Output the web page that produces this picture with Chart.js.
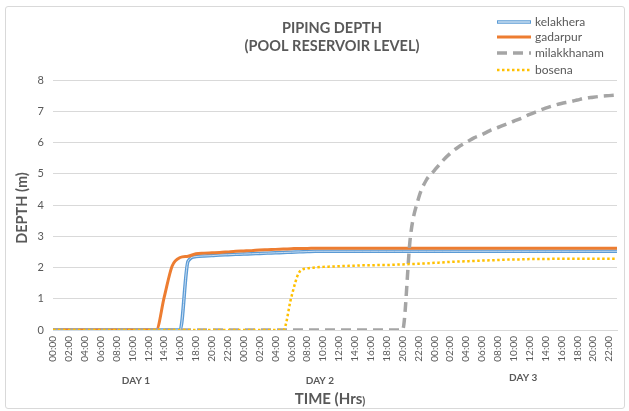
<!DOCTYPE html>
<html>
<head>
<meta charset="utf-8">
<script src="https://cdn.jsdelivr.net/npm/chart.js@4/dist/chart.umd.min.js"></script>
<style>
body { margin: 0; background: #fff; }
#wrap { position: relative; width: 629px; height: 411px; }
#frame { position: absolute; left: 5px; top: 6px; width: 618px; height: 401px; border: 1px solid #d9d9d9; border-radius: 3px; }
canvas { position: absolute; left: 0; top: 0; }
</style>
</head>
<body>
<div id="wrap">
  <div id="frame"></div>
  <canvas id="graph" width="629" height="411"></canvas>
</div>
<script>
//hour labels for one day, repeated for the three days
const hours = ['00:00','01:00','02:00','03:00','04:00','05:00','06:00','07:00','08:00','09:00','10:00','11:00',
               '12:00','13:00','14:00','15:00','16:00','17:00','18:00','19:00','20:00','21:00','22:00','23:00'];
const labels = [...hours, ...hours, ...hours];

const dayNames = ['DAY 1', 'DAY 2', 'DAY 3'];
const yTicks = [0, 1, 2, 3, 4, 5, 6, 7, 8];

//depth values (m), one per hour
const kelakhera = [
  0,0,0,0,0,0,0,0,0,0,0,0,0,0,0,0,0,2.2,2.35,2.37,2.38,2.4,2.41,2.42,
  2.43,2.44,2.45,2.46,2.47,2.48,2.49,2.5,2.51,2.52,2.52,2.52,2.52,2.52,2.52,2.52,2.52,2.52,2.52,2.52,2.52,2.52,2.52,2.52,
  2.52,2.52,2.52,2.52,2.52,2.52,2.52,2.52,2.52,2.52,2.52,2.52,2.52,2.52,2.52,2.52,2.52,2.52,2.52,2.52,2.52,2.52,2.52,2.52
];
const gadarpur = [
  0,0,0,0,0,0,0,0,0,0,0,0,0,0,1.05,2.05,2.32,2.36,2.44,2.46,2.47,2.48,2.5,2.52,
  2.53,2.54,2.56,2.57,2.58,2.59,2.6,2.61,2.61,2.62,2.62,2.62,2.62,2.62,2.62,2.62,2.62,2.62,2.62,2.62,2.62,2.62,2.62,2.62,
  2.62,2.62,2.62,2.62,2.62,2.62,2.62,2.62,2.62,2.62,2.62,2.62,2.62,2.62,2.62,2.62,2.62,2.62,2.62,2.62,2.62,2.62,2.62,2.62
];
const milakkhanam = [
  0,0,0,0,0,0,0,0,0,0,0,0,0,0,0,0,0,0,0,0,0,0,0,0,
  0,0,0,0,0,0,0,0,0,0,0,0,0,0,0,0,0,0,0,0,0,3.0,4.2,4.8,
  5.1,5.4,5.65,5.85,6.0,6.15,6.25,6.38,6.48,6.58,6.68,6.78,6.9,7.0,7.1,7.18,7.25,7.3,7.36,7.42,7.45,7.48,7.5,7.52
];
const bosena = [
  0,0,0,0,0,0,0,0,0,0,0,0,0,0,0,0,0,0,0,0,0,0,0,0,
  0,0,0,0,0,0,1.05,1.85,1.97,2.0,2.02,2.03,2.04,2.05,2.06,2.07,2.07,2.08,2.08,2.09,2.1,2.11,2.12,2.13,
  2.15,2.16,2.18,2.19,2.2,2.21,2.22,2.23,2.24,2.25,2.26,2.26,2.27,2.27,2.27,2.28,2.28,2.28,2.28,2.28,2.28,2.28,2.28,2.28
];

const FONT = 'Lato, "Open Sans", sans-serif';
const TEXT = '#595959';

//get element for the graph
const graph = document.getElementById('graph');

//extra texts: title, axis titles, day labels and legend
const extrasPlugin = {
  id: 'extras',
  afterDatasetDraw(chart, args) {
    //light inner stroke for the double blue line
    if (args.index !== 0) return;
    const ctx = chart.ctx;
    const area = chart.chartArea;
    ctx.save();
    ctx.beginPath();
    ctx.rect(area.left, area.top - 4, area.right - area.left, area.bottom - area.top + 8);
    ctx.clip();
    ctx.beginPath();
    args.meta.dataset.path(ctx);
    ctx.strokeStyle = '#c9ddf2';
    ctx.lineWidth = 1;
    ctx.stroke();
    ctx.restore();
  },
  afterDraw(chart) {
    const ctx = chart.ctx;
    const xs = chart.scales.x;
    ctx.save();
    ctx.fillStyle = TEXT;
    ctx.textAlign = 'center';
    ctx.textBaseline = 'middle';

    //title
    ctx.font = 'bold 14.5px ' + FONT;
    ctx.fillText('PIPING DEPTH', 332, 28);
    ctx.fillText('(POOL RESERVOIR LEVEL)', 332, 46);

    //y axis title
    ctx.save();
    ctx.translate(22, 208);
    ctx.rotate(-Math.PI / 2);
    ctx.fillText('DEPTH (m)', 0, 0);
    ctx.restore();

    //x axis title
    ctx.font = 'bold 15px ' + FONT;
    const main = 'TIME (Hrs';
    const w1 = ctx.measureText(main).width;
    ctx.font = 'bold 11px ' + FONT;
    const w2 = ctx.measureText(')').width;
    const start = 330 - (w1 + w2) / 2;
    ctx.textAlign = 'left';
    ctx.font = 'bold 15px ' + FONT;
    ctx.fillText(main, start, 399);
    ctx.font = 'bold 11px ' + FONT;
    ctx.fillText(')', start + w1, 401);

    //day labels
    ctx.textAlign = 'center';
    ctx.font = 'bold 10px ' + FONT;
    const dayPos = [10.45, 33.6, 59.2];
    const dayY = [381, 381, 378];
    dayNames.forEach((d, i) => {
      ctx.fillText(d, xs.getPixelForValue(dayPos[i]), dayY[i]);
    });

    //legend
    ctx.textAlign = 'left';
    ctx.font = '12px ' + FONT;
    const rows = [22, 37, 53, 70];
    chart.data.datasets.forEach((ds, i) => {
      const y = rows[i];
      ctx.beginPath();
      ctx.setLineDash(ds.borderDash || []);
      ctx.strokeStyle = ds.borderColor;
      ctx.lineWidth = ds.borderWidth;
      ctx.moveTo(497, y);
      ctx.lineTo(531, y);
      ctx.stroke();
      if (i === 0) {
        ctx.beginPath();
        ctx.strokeStyle = '#ffffff';
        ctx.lineWidth = 1;
        ctx.moveTo(498, y);
        ctx.lineTo(530, y);
        ctx.stroke();
      }
      ctx.setLineDash([]);
      ctx.fillStyle = TEXT;
      ctx.fillText(ds.label, 535, y);
    });
    ctx.restore();
  }
};

new Chart(graph, {
  type: 'line',
  data: {
    labels: labels,
    datasets: [
      {
        label: 'kelakhera',
        data: kelakhera,
        borderColor: '#5B9BD5',
        borderWidth: 3.5,
        pointRadius: 0,
        cubicInterpolationMode: 'monotone',
        order: 4
      },
      {
        label: 'gadarpur',
        data: gadarpur,
        borderColor: '#ED7D31',
        borderWidth: 3,
        pointRadius: 0,
        cubicInterpolationMode: 'monotone',
        order: 3
      },
      {
        label: 'milakkhanam',
        data: milakkhanam,
        borderColor: '#A5A5A5',
        borderWidth: 3.5,
        borderDash: [10, 6],
        pointRadius: 0,
        cubicInterpolationMode: 'monotone',
        order: 2
      },
      {
        label: 'bosena',
        data: bosena,
        borderColor: '#FFC000',
        borderWidth: 2.5,
        borderDash: [2.5, 2.5],
        pointRadius: 0,
        cubicInterpolationMode: 'monotone',
        order: 1
      }
    ]
  },
  options: {
    responsive: false,
    animation: false,
    layout: { padding: { left: 8, right: 12, top: 80, bottom: 0 } },
    plugins: {
      legend: { display: false },
      title: { display: false },
      tooltip: { enabled: false }
    },
    scales: {
      x: {
        grid: { display: false, drawTicks: false },
        border: { display: true, color: '#d9d9d9', width: 1 },
        afterFit(scale) { scale.height = 81; },
        ticks: {
          autoSkip: false,
          maxRotation: 90,
          minRotation: 90,
          padding: 6,
          color: TEXT,
          font: { family: FONT, size: 10 },
          callback(value, index) {
            return index % 2 === 0 ? labels[index] : null;
          }
        }
      },
      y: {
        min: 0,
        max: 8,
        afterFit(scale) { scale.width = 45; },
        afterBuildTicks(scale) { scale.ticks = yTicks.map(v => ({ value: v })); },
        grid: { color: '#d9d9d9', drawTicks: false },
        border: { display: false },
        ticks: {
          padding: 9,
          color: TEXT,
          font: { family: FONT, size: 11 }
        }
      }
    }
  },
  plugins: [extrasPlugin]
});
</script>
</body>
</html>
